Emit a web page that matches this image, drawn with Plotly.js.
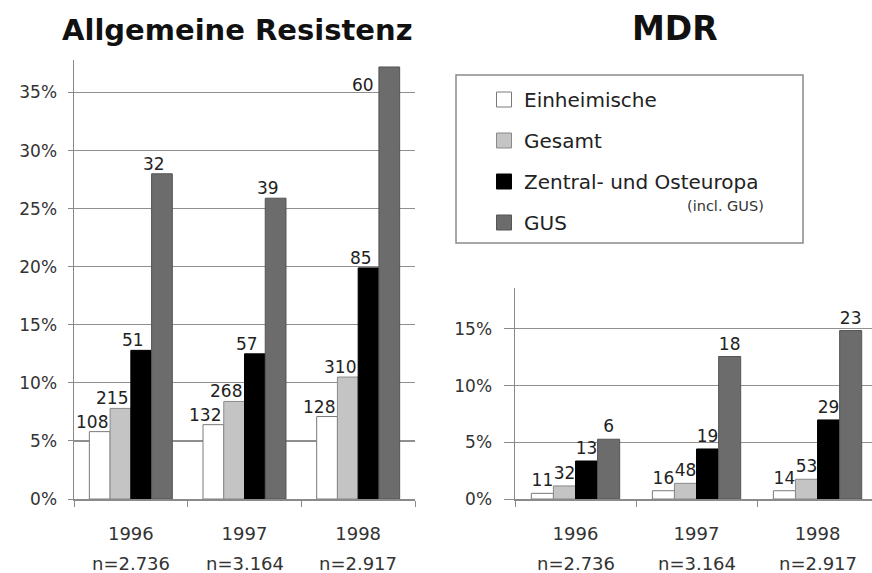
<!DOCTYPE html>
<html>
<head>
<meta charset="utf-8">
<script src="https://cdn.plot.ly/plotly-3.0.1.min.js"></script>
<style>html,body{margin:0;padding:0;background:#fff;}#chart{width:872px;height:573px;}</style>
</head>
<body>
<div id="chart"></div>
<script>
// ---- data ----
const years = ["1996", "1997", "1998"];
const nLabels = ["n=2.736", "n=3.164", "n=2.917"];
const seriesNames = ["Einheimische", "Gesamt", "Zentral- und Osteuropa", "GUS"];

// Allgemeine Resistenz (percent) and case counts
const resEinheimische = [5.8, 6.4, 7.1];
const resGesamt       = [7.8, 8.4, 10.5];
const resZentral      = [12.8, 12.5, 19.9];
const resGUS          = [28.0, 25.9, 37.2];
const resEinheimischeN = ["108", "132", "128"];
const resGesamtN       = ["215", "268", "310"];
const resZentralN      = ["51", "57", "85"];
const resGUSN          = ["32", "39", "60"];

// MDR (percent) and case counts
const mdrEinheimische = [0.5, 0.73, 0.73];
const mdrGesamt       = [1.15, 1.38, 1.74];
const mdrZentral      = [3.35, 4.41, 6.97];
const mdrGUS          = [5.27, 12.56, 14.85];
const mdrEinheimischeN = ["11", "16", "14"];
const mdrGesamtN       = ["32", "48", "53"];
const mdrZentralN      = ["13", "19", "29"];
const mdrGUSN          = ["6", "18", "23"];

const yTickVals = [0, 5, 10, 15, 20, 25, 30, 35];
const yTickText = ["0%", "5%", "10%", "15%", "20%", "25%", "30%", "35%"];
const yTickVals2 = [0, 5, 10, 15];
const yTickText2 = ["0%", "5%", "10%", "15%"];

// ---- styles ----
const colors = ["#ffffff", "#c4c4c4", "#000000", "#6c6c6c"];
const lineColors = ["#7a7a7a", "#8a8a8a", "#000000", "#555555"];
const FONT = "DejaVu Sans, Verdana, sans-serif";
const W = 872, H = 573;
const px = v => v / W;
const py = v => 1 - v / H;
const BARGAP = 0.27;
const RES_MAX = 37.8;

const resVals = [resEinheimische, resGesamt, resZentral, resGUS];
const resTxt = [resEinheimischeN, resGesamtN, resZentralN, resGUSN];
const mdrVals = [mdrEinheimische, mdrGesamt, mdrZentral, mdrGUS];
const mdrTxt = [mdrEinheimischeN, mdrGesamtN, mdrZentralN, mdrGUSN];

const traces = [];
function barTrace(vals, txt, i, xa, ya, withText) {
  const t = {
    type: "bar", x: years, y: vals,
    marker: {color: colors[i], line: {color: lineColors[i], width: 1}},
    xaxis: xa, yaxis: ya, showlegend: false, hoverinfo: "skip"
  };
  if (withText) {
    t.text = txt; t.textposition = "outside"; t.cliponaxis = false; t.constraintext = "none";
    t.textfont = {family: FONT, size: 17, color: "#222"};
  }
  return t;
}
for (let i = 0; i < 4; i++) traces.push(barTrace(resVals[i], resTxt[i], i, "x", "y", false));
for (let i = 0; i < 4; i++) traces.push(barTrace(mdrVals[i], mdrTxt[i], i, "x2", "y2", true));
// legend entries
for (let i = 0; i < 4; i++) {
  traces.push({
    type: "scatter", mode: "markers", x: [null], y: [null], name: seriesNames[i],
    legendgroup: "g" + i, xaxis: "x", yaxis: "y",
    marker: {symbol: "square", size: 15, color: colors[i], line: {color: lineColors[i], width: 1}}
  });
}

const axisCommon = {
  showline: true, linecolor: "#8a8a8a", linewidth: 1.5,
  tickfont: {family: FONT, size: 17, color: "#333"},
  fixedrange: true
};

const annotations = [
  {text: "<b>Allgemeine Resistenz</b>", x: px(238), y: py(30), xref: "paper", yref: "paper",
   showarrow: false, font: {family: FONT, size: 29, color: "#111"}, xanchor: "center", yanchor: "middle"},
  {text: "<b>MDR</b>", x: px(675), y: py(29), xref: "paper", yref: "paper",
   showarrow: false, font: {family: FONT, size: 33, color: "#111"}, xanchor: "center", yanchor: "middle"},
  {text: "(incl. GUS)", x: px(766), y: py(206), xref: "paper", yref: "paper",
   showarrow: false, font: {family: FONT, size: 14.5, color: "#333"}, xanchor: "right", yanchor: "middle"}
];
// value labels for the left chart (slightly left of bar centres, as in the original)
const barW = (1 - BARGAP) / 4;
for (let i = 0; i < 4; i++) {
  for (let k = 0; k < years.length; k++) {
    const xc = k + (i - 1.5) * barW;
    const v = resVals[i][k];
    if (v + 2.2 > RES_MAX) {
      annotations.push({text: resTxt[i][k], x: xc - barW / 2, y: v, xref: "x", yref: "y",
        xanchor: "right", yanchor: "top", xshift: -3, yshift: -6, showarrow: false,
        font: {family: FONT, size: 17, color: "#222"}});
    } else {
      annotations.push({text: resTxt[i][k], x: xc, y: v, xref: "x", yref: "y",
        xanchor: "center", yanchor: "bottom", xshift: -8, yshift: -2, showarrow: false,
        font: {family: FONT, size: 17, color: "#222"}});
    }
  }
}
for (let k = 0; k < years.length; k++) {
  annotations.push({text: nLabels[k], x: k, xref: "x", y: py(563), yref: "paper",
    showarrow: false, font: {family: FONT, size: 18, color: "#333"}, yanchor: "middle"});
  annotations.push({text: nLabels[k], x: k, xref: "x2", y: py(563), yref: "paper",
    showarrow: false, font: {family: FONT, size: 18, color: "#333"}, yanchor: "middle"});
}

const xTickFont = {family: FONT, size: 18, color: "#333"};

const layout = {
  width: W, height: H,
  margin: {l: 0, r: 0, t: 0, b: 0},
  paper_bgcolor: "#fff", plot_bgcolor: "rgba(0,0,0,0)",
  barmode: "group", bargap: BARGAP, bargroupgap: 0,
  font: {family: FONT, color: "#333"},
  xaxis: Object.assign({}, axisCommon, {
    domain: [px(74), px(415)], anchor: "y", type: "category", range: [-0.5, 2.5],
    ticks: "outside", tickson: "boundaries", ticklen: 6, tickcolor: "#8a8a8a",
    ticklabelstandoff: 18, showgrid: false, tickfont: xTickFont
  }),
  yaxis: Object.assign({}, axisCommon, {
    domain: [py(499), py(60)], anchor: "x", range: [0, RES_MAX],
    tickvals: yTickVals, ticktext: yTickText,
    ticks: "outside", ticklen: 5, tickcolor: "#8a8a8a",
    showgrid: true, gridcolor: "#8f8f8f", gridwidth: 1.2, zeroline: false,
    ticklabelstandoff: 7
  }),
  xaxis2: Object.assign({}, axisCommon, {
    domain: [px(515), 1], anchor: "y2", type: "category", range: [-0.5, 2.45],
    ticks: "outside", tickson: "boundaries", ticklen: 6, tickcolor: "#8a8a8a",
    ticklabelstandoff: 18, showgrid: false, tickfont: xTickFont
  }),
  yaxis2: Object.assign({}, axisCommon, {
    domain: [py(499), py(288)], anchor: "x2", range: [0, 18.6],
    tickvals: yTickVals2, ticktext: yTickText2,
    ticks: "outside", ticklen: 10, tickcolor: "#8a8a8a",
    showgrid: true, gridcolor: "#8f8f8f", gridwidth: 1.2, zeroline: false,
    ticklabelstandoff: 8
  }),
  showlegend: true,
  legend: {
    x: px(484), y: py(80), xanchor: "left", yanchor: "top",
    bgcolor: "rgba(0,0,0,0)", borderwidth: 0,
    font: {family: FONT, size: 20, color: "#222"},
    traceorder: "grouped", tracegroupgap: 12, itemclick: false, itemdoubleclick: false
  },
  shapes: [
    {type: "rect", xref: "paper", yref: "paper", x0: px(456), x1: px(803), y0: py(243), y1: py(75),
     line: {color: "#8a8a8a", width: 1.5}, fillcolor: "rgba(0,0,0,0)", layer: "below"}
  ],
  annotations: annotations
};

Plotly.newPlot("chart", traces, layout, {staticPlot: true, displayModeBar: false});
</script>
</body>
</html>
